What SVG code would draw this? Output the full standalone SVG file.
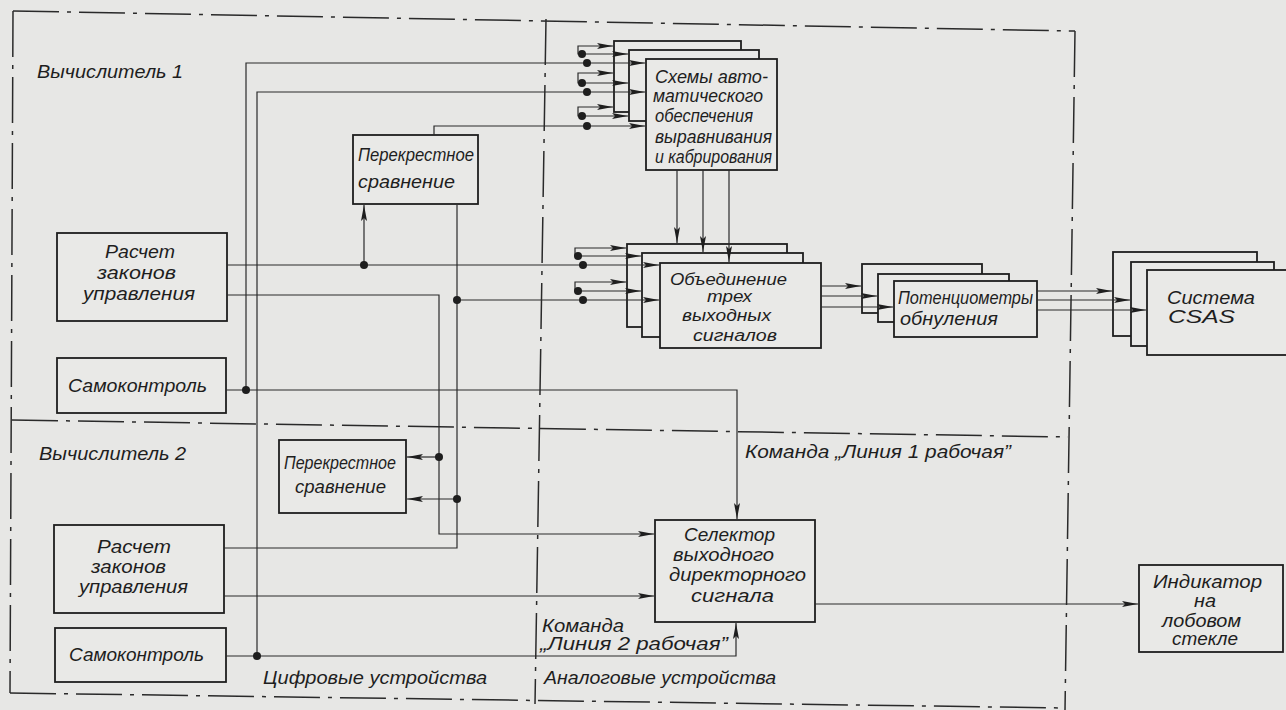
<svg xmlns="http://www.w3.org/2000/svg" width="1286" height="710" viewBox="0 0 1286 710">
<style>
.bg{fill:#e7e7e5}
.box{fill:#e9e9e7;stroke:#1e1e1e;stroke-width:1.8}
.ln{fill:none;stroke:#2a2a2a;stroke-width:1.2}
.ar{marker-end:url(#ah)}
.dot{fill:#1e1e1e}
.t{font-family:"Liberation Sans",Arial,sans-serif;font-style:italic;font-size:18px;fill:#1e1e1e}
.s{font-size:16px}
.frame{fill:none;stroke:#2a2a2a;stroke-width:1.5;stroke-dasharray:46 8 4 8}
</style>
<defs>
<marker id="ah" markerWidth="17" markerHeight="8" refX="16" refY="4" orient="auto" markerUnits="userSpaceOnUse"><path d="M0,1 L16,4 L0,7 L3,4 Z" fill="#1e1e1e"/></marker>
</defs>
<rect class="bg" x="0" y="0" width="1286" height="710"/>
<g id="frames">
<path class="frame" d="M13,11 L1075,31"/>
<path class="frame" d="M13,11 L10,693"/>
<path class="frame" d="M10,693 L1066,708"/>
<path class="frame" d="M1075,31 L1065,710"/>
<path class="frame" d="M12,420 L1068,437"/>
<path class="frame" d="M546,19 L535,704"/>
</g>
<g id="raschet1">
<rect class="box" x="57" y="233" width="170" height="88"/>
<text class="t" x="105" y="258" textLength="70" lengthAdjust="spacingAndGlyphs">Расчет</text>
<text class="t" x="97" y="279" textLength="79" lengthAdjust="spacingAndGlyphs">законов</text>
<text class="t" x="83" y="300" textLength="112" lengthAdjust="spacingAndGlyphs">управления</text>
</g>
<g id="samokontrol1">
<rect class="box" x="57" y="358" width="169" height="55"/>
<text class="t" x="68" y="392" textLength="139" lengthAdjust="spacingAndGlyphs">Самоконтроль</text>
</g>
<g id="perekrestnoe1">
<rect class="box" x="353" y="135" width="125" height="69"/>
<text class="t" x="358" y="161" textLength="116" lengthAdjust="spacingAndGlyphs">Перекрестное</text>
<text class="t" x="358" y="188" textLength="97" lengthAdjust="spacingAndGlyphs">сравнение</text>
</g>
<g id="skhemy">
<rect class="box" x="614" y="41" width="127" height="71"/>
<rect class="box" x="629" y="50" width="130" height="71"/>
<rect class="box" x="646" y="59" width="131" height="111"/>
<text class="t" x="655" y="83" textLength="113" lengthAdjust="spacingAndGlyphs">Схемы авто-</text>
<text class="t" x="653" y="102" textLength="110" lengthAdjust="spacingAndGlyphs">матического</text>
<text class="t" x="655" y="122" textLength="98" lengthAdjust="spacingAndGlyphs">обеспечения</text>
<text class="t" x="655" y="143" textLength="117" lengthAdjust="spacingAndGlyphs">выравнивания</text>
<text class="t" x="655" y="163" textLength="117" lengthAdjust="spacingAndGlyphs">и кабрирования</text>
</g>
<g id="obedinenie">
<rect class="box" x="627" y="244" width="160" height="83"/>
<rect class="box" x="642" y="253" width="161" height="84"/>
<rect class="box" x="660" y="263" width="161" height="85"/>
<text class="t s" x="670" y="285" textLength="117" lengthAdjust="spacingAndGlyphs">Объединение</text>
<text class="t s" x="707" y="302" textLength="45" lengthAdjust="spacingAndGlyphs">трех</text>
<text class="t s" x="682" y="321" textLength="89" lengthAdjust="spacingAndGlyphs">выходных</text>
<text class="t s" x="693" y="341" textLength="84" lengthAdjust="spacingAndGlyphs">сигналов</text>
</g>
<g id="potenciometry">
<rect class="box" x="862" y="264" width="120" height="49"/>
<rect class="box" x="878" y="274" width="131" height="48"/>
<rect class="box" x="894" y="281" width="143" height="56"/>
<text class="t" x="898" y="304" textLength="135" lengthAdjust="spacingAndGlyphs">Потенциометры</text>
<text class="t" x="900" y="325" textLength="98" lengthAdjust="spacingAndGlyphs">обнуления</text>
</g>
<g id="sistema">
<rect class="box" x="1113" y="252" width="144" height="84"/>
<rect class="box" x="1131" y="262" width="143" height="84"/>
<rect class="box" x="1147" y="270" width="150" height="85"/>
<text class="t" x="1167" y="304" textLength="88" lengthAdjust="spacingAndGlyphs">Система</text>
<text class="t" x="1168" y="323" textLength="67" lengthAdjust="spacingAndGlyphs">CSAS</text>
</g>
<g id="perekrestnoe2">
<rect class="box" x="279" y="440" width="127" height="73"/>
<text class="t" x="284" y="469" textLength="112" lengthAdjust="spacingAndGlyphs">Перекрестное</text>
<text class="t" x="295" y="493" textLength="91" lengthAdjust="spacingAndGlyphs">сравнение</text>
</g>
<g id="raschet2">
<rect class="box" x="54" y="525" width="170" height="88"/>
<text class="t" x="97" y="553" textLength="74" lengthAdjust="spacingAndGlyphs">Расчет</text>
<text class="t" x="91" y="573" textLength="75" lengthAdjust="spacingAndGlyphs">законов</text>
<text class="t" x="79" y="593" textLength="109" lengthAdjust="spacingAndGlyphs">управления</text>
</g>
<g id="samokontrol2">
<rect class="box" x="55" y="628" width="171" height="54"/>
<text class="t" x="69" y="661" textLength="135" lengthAdjust="spacingAndGlyphs">Самоконтроль</text>
</g>
<g id="selektor">
<rect class="box" x="655" y="520" width="160" height="102"/>
<text class="t" x="684" y="541" textLength="91" lengthAdjust="spacingAndGlyphs">Селектор</text>
<text class="t" x="673" y="561" textLength="101" lengthAdjust="spacingAndGlyphs">выходного</text>
<text class="t" x="669" y="581" textLength="137" lengthAdjust="spacingAndGlyphs">директорного</text>
<text class="t" x="691" y="602" textLength="83" lengthAdjust="spacingAndGlyphs">сигнала</text>
</g>
<g id="indikator">
<rect class="box" x="1139" y="565" width="144" height="87"/>
<text class="t" x="1153" y="588" textLength="109" lengthAdjust="spacingAndGlyphs">Индикатор</text>
<text class="t" x="1194" y="607" textLength="22" lengthAdjust="spacingAndGlyphs">на</text>
<text class="t" x="1162" y="627" textLength="79" lengthAdjust="spacingAndGlyphs">лобовом</text>
<text class="t" x="1172" y="645" textLength="66" lengthAdjust="spacingAndGlyphs">стекле</text>
</g>
<g id="connectors">
<path class="ln ar" d="M226,390 H737 V519"/>
<path class="ln ar" d="M246,390 V63 H645"/>
<path class="ln ar" d="M226,656 H736 V623"/>
<path class="ln ar" d="M257,656 V92 H645"/>
<path class="ln ar" d="M434,135 V126 H645"/>
<path class="ln ar" d="M582,54 H628"/>
<path class="ln ar" d="M582,54 H578 V46 H613"/>
<path class="ln ar" d="M582,83 H628"/>
<path class="ln ar" d="M582,83 H578 V73 H613"/>
<path class="ln ar" d="M582,116 H628"/>
<path class="ln ar" d="M582,116 H578 V107 H613"/>
<path class="ln ar" d="M677,170 V243"/>
<path class="ln ar" d="M703,170 V252"/>
<path class="ln ar" d="M729,170 V262"/>
<path class="ln ar" d="M227,265 H659"/>
<path class="ln ar" d="M364,265 V205"/>
<path class="ln ar" d="M578,256 H641"/>
<path class="ln ar" d="M578,256 H575 V248 H626"/>
<path class="ln ar" d="M227,295 H439 V534 H654"/>
<path class="ln ar" d="M439,457 H407"/>
<path class="ln" d="M224,548 H457 V205"/>
<path class="ln ar" d="M457,499 H407"/>
<path class="ln ar" d="M457,300 H659"/>
<path class="ln ar" d="M578,291 H641"/>
<path class="ln ar" d="M578,291 H575 V282 H626"/>
<path class="ln ar" d="M224,596 H654"/>
<path class="ln ar" d="M815,604 H1138"/>
<path class="ln ar" d="M821,286 H861"/>
<path class="ln ar" d="M821,296 H877"/>
<path class="ln ar" d="M821,307 H893"/>
<path class="ln ar" d="M1037,291 H1112"/>
<path class="ln ar" d="M1037,300 H1130"/>
<path class="ln ar" d="M1037,310 H1146"/>
<circle class="dot" cx="246" cy="390" r="4"/>
<circle class="dot" cx="257" cy="656" r="4"/>
<circle class="dot" cx="587" cy="63" r="4"/>
<circle class="dot" cx="587" cy="92" r="4"/>
<circle class="dot" cx="587" cy="126" r="4"/>
<circle class="dot" cx="582" cy="54" r="4"/>
<circle class="dot" cx="582" cy="83" r="4"/>
<circle class="dot" cx="582" cy="116" r="4"/>
<circle class="dot" cx="364" cy="265" r="4"/>
<circle class="dot" cx="583" cy="265" r="4"/>
<circle class="dot" cx="578" cy="256" r="4"/>
<circle class="dot" cx="439" cy="457" r="4"/>
<circle class="dot" cx="457" cy="499" r="4"/>
<circle class="dot" cx="457" cy="300" r="4"/>
<circle class="dot" cx="583" cy="300" r="4"/>
<circle class="dot" cx="578" cy="291" r="4"/>
</g>
<g id="labels">
<text class="t" x="37" y="78" textLength="146" lengthAdjust="spacingAndGlyphs">Вычислитель 1</text>
<text class="t" x="39" y="460" textLength="147" lengthAdjust="spacingAndGlyphs">Вычислитель 2</text>
<text class="t" x="745" y="458" textLength="266" lengthAdjust="spacingAndGlyphs">Команда „Линия 1 рабочая”</text>
<text class="t" x="542" y="632" textLength="82" lengthAdjust="spacingAndGlyphs">Команда</text>
<text class="t" x="540" y="650" textLength="188" lengthAdjust="spacingAndGlyphs">„Линия 2 рабочая”</text>
<text class="t" x="544" y="684" textLength="232" lengthAdjust="spacingAndGlyphs">Аналоговые устройства</text>
<text class="t" x="263" y="684" textLength="224" lengthAdjust="spacingAndGlyphs">Цифровые устройства</text>
</g>
</svg>
